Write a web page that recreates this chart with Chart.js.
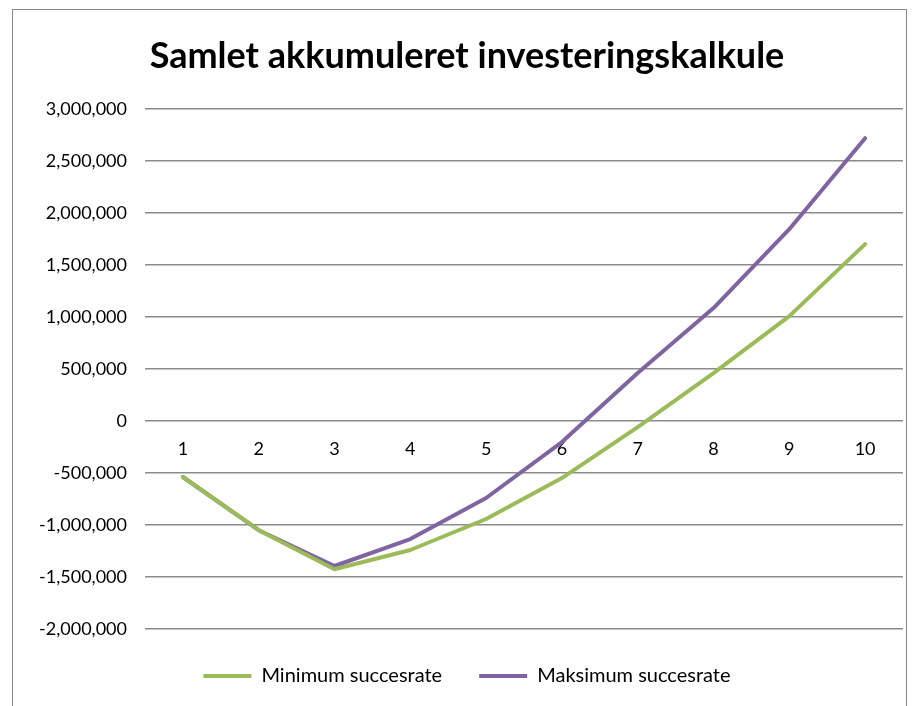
<!DOCTYPE html>
<html>
<head>
<meta charset="utf-8">
<script src="https://cdn.jsdelivr.net/npm/chart.js@4.4.1/dist/chart.umd.min.js"></script>
<style>
  body { margin: 0; background: #fff; overflow: hidden; }
  #frame {
    position: absolute; left: 12px; top: 9px; width: 895px; height: 720px;
    border: 1.5px solid #8a8a8a; border-bottom: none; box-sizing: border-box;
  }
  #wrap { position: absolute; left: 0; top: 0; width: 893px; height: 697px; }
</style>
</head>
<body>
<div id="frame"><div id="wrap"><canvas id="investChart"></canvas></div></div>
<script>
"use strict";

// data
var years = ["1", "2", "3", "4", "5", "6", "7", "8", "9", "10"];
var minRate = [-538000, -1050000, -1425000, -1240000, -942000, -548000, -58000, 462000, 1010000, 1702000];
var maxRate = [-538000, -1050000, -1394000, -1135000, -740000, -202000, 462000, 1087000, 1846000, 2721000];
var seriesNames = ["Minimum succesrate", "Maksimum succesrate"];

var fontFamily = "Lato, 'Open Sans', sans-serif";

var ctx = document.getElementById("investChart").getContext("2d");
var investChart = new Chart(ctx, {
  type: "line",
  data: {
    labels: years,
    datasets: [
      {
        label: seriesNames[0],
        data: minRate,
        borderColor: "#9bbb59",
        backgroundColor: "#9bbb59",
        borderWidth: 4,
        pointRadius: 0,
        tension: 0,
        borderJoinStyle: "round",
        borderCapStyle: "round"
      },
      {
        label: seriesNames[1],
        data: maxRate,
        borderColor: "#8064a2",
        backgroundColor: "#8064a2",
        borderWidth: 4,
        pointRadius: 0,
        tension: 0,
        borderJoinStyle: "round",
        borderCapStyle: "round"
      }
    ]
  },
  options: {
    responsive: true,
    maintainAspectRatio: false,
    animation: false,
    layout: { padding: { left: 18, right: 3, top: 25, bottom: 11 } },
    plugins: {
      title: {
        display: true,
        text: "Samlet akkumuleret investeringskalkule",
        color: "#000",
        font: { family: fontFamily, size: 36, weight: "bold" },
        padding: { top: 0, bottom: 31 }
      },
      legend: {
        position: "bottom",
        labels: {
          color: "#000",
          font: { family: fontFamily, size: 20 },
          usePointStyle: true,
          pointStyle: "line",
          pointStyleWidth: 48,
          padding: 37
        }
      },
      tooltip: { enabled: false }
    },
    scales: {
      x: {
        position: { y: 0 },
        offset: true,
        grid: { display: false },
        border: { display: false },
        ticks: {
          color: "#000",
          font: { family: fontFamily, size: 18 },
          padding: 9,
          maxRotation: 0
        }
      },
      y: {
        min: -2000000,
        max: 3000000,
        afterFit: function (scale) { scale.width = 114; },
        grid: { color: "#8c8c8c", lineWidth: 1.5, drawTicks: false },
        border: { display: false },
        ticks: {
          stepSize: 500000,
          color: "#000",
          font: { family: fontFamily, size: 18 },
          padding: 18,
          callback: function (v) { return v.toLocaleString("en-US"); }
        }
      }
    }
  }
});
</script>
</body>
</html>
